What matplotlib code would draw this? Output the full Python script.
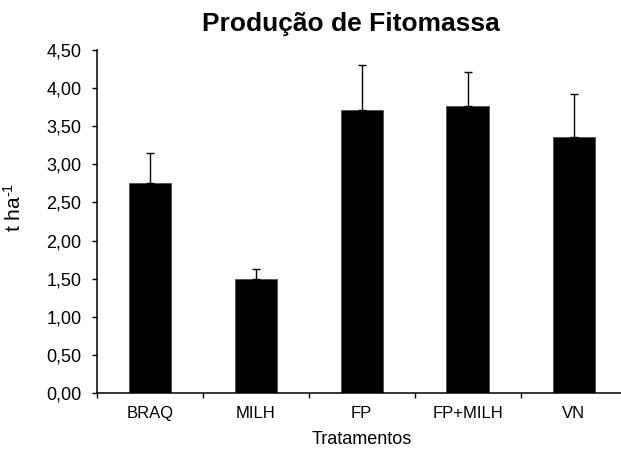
import matplotlib
matplotlib.use("Agg")
import matplotlib.pyplot as plt
from matplotlib.ticker import FuncFormatter, FixedLocator

plt.rcParams['font.family'] = ['Liberation Sans', 'DejaVu Sans']
plt.rcParams['mathtext.fontset'] = 'custom'
plt.rcParams['mathtext.rm'] = 'Liberation Sans'
plt.rcParams['mathtext.it'] = 'Liberation Sans'

categories = ["BRAQ", "MILH", "FP", "FP+MILH", "VN"]
values = [2.75, 1.49, 3.71, 3.76, 3.35]
err_upper = [0.40, 0.14, 0.59, 0.45, 0.57]
yticks = [0.0, 0.5, 1.0, 1.5, 2.0, 2.5, 3.0, 3.5, 4.0, 4.5]

fig = plt.figure(figsize=(6.21, 4.5), dpi=100)
ax = fig.add_axes([96.7/621, 56.7/450, 530/621, (393.3-49.5)/450])

x = list(range(len(categories)))
ax.bar(x, values, width=0.4, color='black', edgecolor='#444444', linewidth=0.5, zorder=2)
ax.errorbar(x, values, yerr=[[0]*len(values), err_upper], fmt='none',
            ecolor='black', elinewidth=1.0, capsize=3.0, capthick=1.0, zorder=3)

ax.set_xlim(-0.5, len(categories) - 0.5)
ax.set_ylim(0, 4.5)
ax.set_yticks(yticks)
ax.yaxis.set_major_formatter(FuncFormatter(lambda v, p: f"{v:.2f}".replace('.', ',')))
ax.set_xticks(x)
ax.set_xticklabels(categories)
ax.xaxis.set_minor_locator(FixedLocator([i - 0.5 for i in range(len(categories) + 1)]))

for s in ['top', 'right']:
    ax.spines[s].set_visible(False)
for s in ['left', 'bottom']:
    ax.spines[s].set_linewidth(1.1)

ax.tick_params(axis='y', direction='out', length=3.6, width=1.0, labelsize=13, pad=7.5)
ax.tick_params(axis='x', which='major', length=0, labelsize=12, pad=9.0)
ax.tick_params(axis='x', which='minor', direction='out', length=3.6, width=1.0)

fig.text(351/621, 1 - 24/450, "Produção de Fitomassa", ha='center', va='center',
         fontsize=19, fontweight='bold')
fig.text(361.7/621, 1 - 440/450, "Tratamentos", ha='center', va='center', fontsize=13)
fig.text(14/621, 1 - 207/450, "t ha$^{\\text{-1}}$", ha='center', va='center', rotation=90, fontsize=15)

fig.savefig("out.png", dpi=100)
